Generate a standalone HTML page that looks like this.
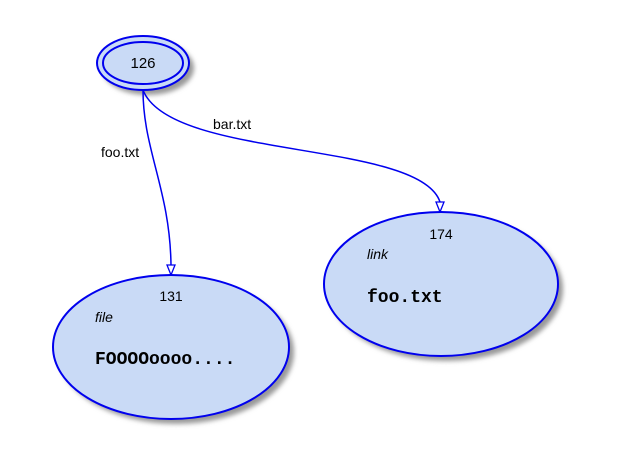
<!DOCTYPE html>
<html><head><style>
html,body{margin:0;padding:0;background:#fff;}
</style></head><body>
<svg width="617" height="463" viewBox="0 0 617 463" xmlns="http://www.w3.org/2000/svg" font-family="Liberation Sans, sans-serif">
<defs>
<filter id="sh" x="-20%" y="-20%" width="150%" height="150%"><feGaussianBlur stdDeviation="2.5"/></filter>
</defs>
<!-- shadows -->
<ellipse cx="148" cy="68" rx="46" ry="27" fill="#999" filter="url(#sh)"/>
<ellipse cx="176" cy="352" rx="118" ry="72" fill="#999" filter="url(#sh)"/>
<ellipse cx="446" cy="289" rx="117" ry="72" fill="#999" filter="url(#sh)"/>
<!-- edges -->
<path d="M143,90 C143,150 170,190 171,265" fill="none" stroke="#0000ee" stroke-width="1.5"/>
<polygon points="167,265 175,265 171,275" fill="#fff" stroke="#0000ee" stroke-width="1.3"/>
<path d="M143,90 C170,160 420,140 440,202" fill="none" stroke="#0000ee" stroke-width="1.5"/>
<polygon points="436,202 444,202 440,212" fill="#fff" stroke="#0000ee" stroke-width="1.3"/>
<text x="101" y="157" font-size="14" fill="#000">foo.txt</text>
<text x="213" y="129" font-size="14" fill="#000">bar.txt</text>
<!-- node 126 -->
<ellipse cx="143" cy="63" rx="46" ry="27" fill="#c9daf6" stroke="#0000ee" stroke-width="2"/>
<ellipse cx="143" cy="63" rx="40" ry="21" fill="#c9daf6" stroke="#0000ee" stroke-width="2"/>
<text x="143" y="68" font-size="15" text-anchor="middle">126</text>
<!-- node 131 -->
<ellipse cx="171" cy="347" rx="118" ry="72" fill="#c9daf6" stroke="#0000ee" stroke-width="2"/>
<text x="171" y="301" font-size="14" text-anchor="middle">131</text>
<text x="95" y="322" font-size="14" font-style="italic">file</text>
<text x="95" y="364" font-size="18" font-weight="bold" font-family="Liberation Mono, monospace">FOOOOoooo....</text>
<!-- node 174 -->
<ellipse cx="441" cy="284" rx="117" ry="72" fill="#c9daf6" stroke="#0000ee" stroke-width="2"/>
<text x="441" y="239" font-size="14" text-anchor="middle">174</text>
<text x="367" y="259" font-size="14" font-style="italic">link</text>
<text x="367" y="302" font-size="18" font-weight="bold" font-family="Liberation Mono, monospace">foo.txt</text>
</svg>
</body></html>
